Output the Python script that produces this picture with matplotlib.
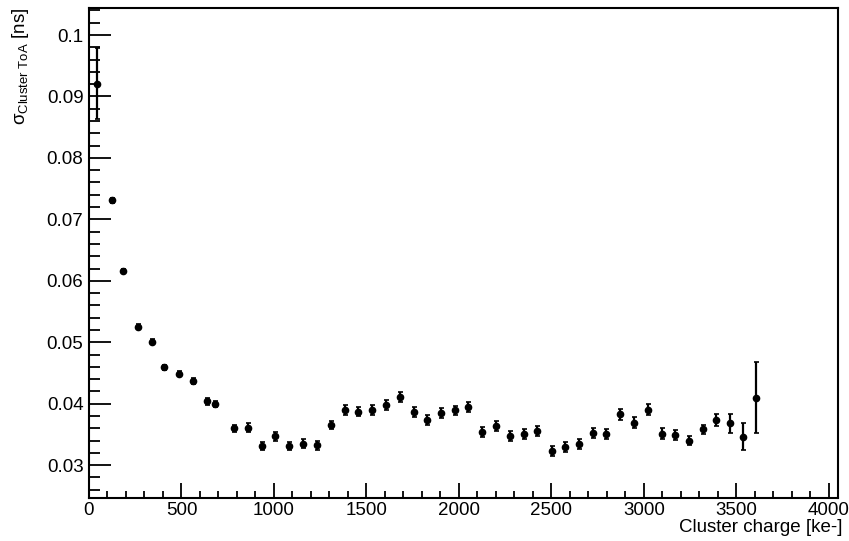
import matplotlib
matplotlib.use('Agg')
import matplotlib.pyplot as plt
from matplotlib.ticker import MultipleLocator, FuncFormatter

plt.rcParams['font.family'] = ['Liberation Sans', 'DejaVu Sans']
plt.rcParams['mathtext.fontset'] = 'custom'
plt.rcParams['mathtext.rm'] = 'Liberation Sans'
plt.rcParams['mathtext.it'] = 'Liberation Sans'

# cluster charge [ke-]
charge = [41, 123, 185, 266, 339, 405, 488, 560, 638, 681, 785, 859, 935, 1007, 1083,
          1158, 1232, 1306, 1382, 1456, 1531, 1605, 1681, 1755, 1829, 1904, 1978, 2052,
          2126, 2201, 2276, 2351, 2425, 2501, 2575, 2648, 2723, 2798, 2872, 2947, 3023,
          3097, 3171, 3245, 3319, 3393, 3465, 3535, 3609]
# sigma cluster ToA [ns]
sigma = [0.0921, 0.0731, 0.0616, 0.0525, 0.0501, 0.0459, 0.0449, 0.0437, 0.0404, 0.0400,
         0.0360, 0.0361, 0.0331, 0.0347, 0.0331, 0.0335, 0.0332, 0.0365, 0.0390, 0.0387,
         0.0390, 0.0398, 0.0411, 0.0387, 0.0373, 0.0385, 0.0389, 0.0395, 0.0354, 0.0364,
         0.0348, 0.0351, 0.0355, 0.0323, 0.0330, 0.0335, 0.0352, 0.0351, 0.0383, 0.0369,
         0.0390, 0.0351, 0.0349, 0.0340, 0.0358, 0.0374, 0.0368, 0.0346, 0.0410]
sigma_err = [0.0058, 0.0004, 0.0004, 0.0004, 0.0004, 0.0004, 0.0004, 0.0005, 0.0006, 0.0005,
             0.0006, 0.0007, 0.0006, 0.0007, 0.0006, 0.0007, 0.0007, 0.0007, 0.0008, 0.0007,
             0.0008, 0.0008, 0.0008, 0.0008, 0.0008, 0.0008, 0.0008, 0.0008, 0.0008, 0.0008,
             0.0008, 0.0008, 0.0008, 0.0008, 0.0008, 0.0008, 0.0008, 0.0008, 0.0009, 0.0009,
             0.0009, 0.0009, 0.0008, 0.0008, 0.0008, 0.0010, 0.0015, 0.0022, 0.0058]

fig = plt.figure(figsize=(8.49, 5.41), dpi=100)
ax = fig.add_axes([89/849, 1-497.7/541, 749/849, 489.7/541])

ax.errorbar(charge, sigma, yerr=sigma_err, fmt='o', color='black', ms=4.5,
            elinewidth=1.6, capsize=1.8, capthick=1.2)

ax.set_xlim(0, 4050)
ax.set_ylim(0.0247, 0.1044)
ax.xaxis.set_major_locator(MultipleLocator(500))
ax.xaxis.set_minor_locator(MultipleLocator(100))
ax.yaxis.set_major_locator(MultipleLocator(0.01))
ax.yaxis.set_minor_locator(MultipleLocator(0.002))
ax.yaxis.set_major_formatter(FuncFormatter(lambda v, p: '%g' % round(v, 4)))

ax.tick_params(which='both', direction='in', top=False, right=False, labelsize=13.5, width=1.3)
ax.tick_params(axis='y', which='major', length=16, pad=4)
ax.tick_params(axis='y', which='minor', length=8)
ax.tick_params(axis='x', which='major', length=11, pad=3)
ax.tick_params(axis='x', which='minor', length=5)
for s in ax.spines.values():
    s.set_linewidth(1.5)

ax.set_xlabel('Cluster charge [ke-]', fontsize=13.5, loc='right')
ax.xaxis.set_label_coords(1.006, -0.043)
ax.set_ylabel(r'$\sigma_{\mathrm{Cluster\ ToA}}$ [ns]', fontsize=13.5, loc='top')
ax.yaxis.set_label_coords(-0.077, 1.0)

plt.savefig('out.png', dpi=100)
